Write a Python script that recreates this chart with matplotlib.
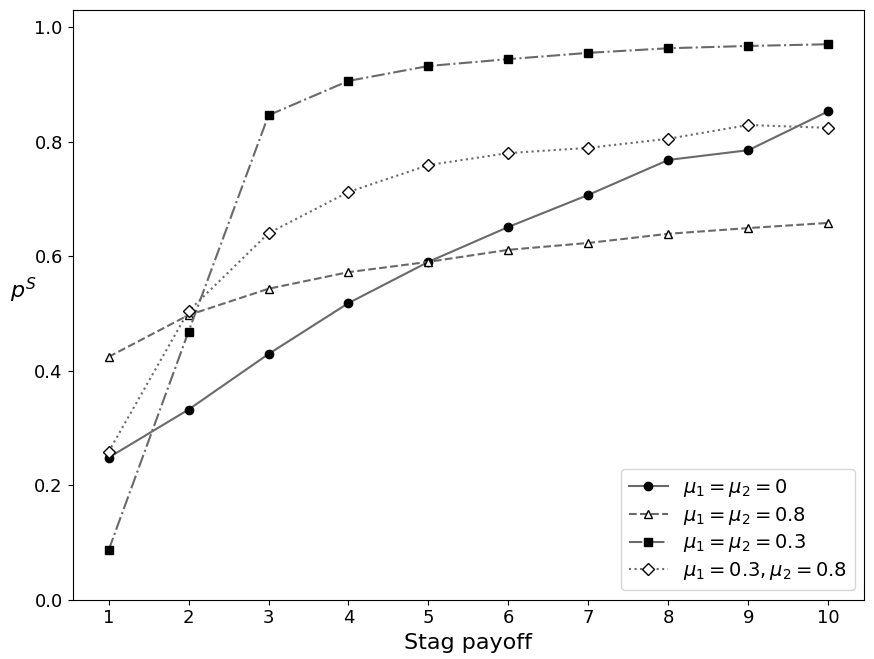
import numpy as np
import matplotlib.pyplot as plt

stag = np.arange(1, 11)
p_mu0 = [0.248, 0.332, 0.429, 0.518, 0.590, 0.651, 0.707, 0.768, 0.785, 0.853]
p_mu08 = [0.424, 0.497, 0.543, 0.572, 0.590, 0.611, 0.623, 0.639, 0.649, 0.658]
p_mu03 = [0.086, 0.468, 0.846, 0.906, 0.932, 0.944, 0.955, 0.963, 0.967, 0.970]
p_mix = [0.258, 0.504, 0.640, 0.712, 0.759, 0.780, 0.789, 0.805, 0.829, 0.824]

fig, ax = plt.subplots(figsize=(8.74, 6.59), dpi=100)
c = 'dimgray'
ax.plot(stag, p_mu0, '-', color=c, marker='o', mfc='k', mec='k', ms=6, lw=1.5,
        label=r'$\mu_1 = \mu_2 = 0$')
ax.plot(stag, p_mu08, '--', color=c, marker='^', mfc='white', mec='k', ms=6, lw=1.5,
        label=r'$\mu_1 = \mu_2 = 0.8$')
ax.plot(stag, p_mu03, '-.', color=c, marker='s', mfc='k', mec='k', ms=6, lw=1.5,
        label=r'$\mu_1 = \mu_2 = 0.3$')
ax.plot(stag, p_mix, ':', color=c, marker='D', mfc='white', mec='k', ms=6, lw=1.5,
        label=r'$\mu_1 = 0.3, \mu_2 = 0.8$')

ax.set_xticks(stag)
ax.set_ylim(0, 1.03)
ax.set_yticks(np.arange(0, 1.01, 0.2))
ax.tick_params(labelsize=13)
ax.set_xlabel('Stag payoff', fontsize=16)
ax.set_ylabel(r'$p^S$', fontsize=16, rotation=0, labelpad=8)
ax.legend(loc='lower right', fontsize=14, labelspacing=0.3)
fig.subplots_adjust(left=0.083, right=0.989, top=0.985, bottom=0.09)
fig.savefig('out.png')
